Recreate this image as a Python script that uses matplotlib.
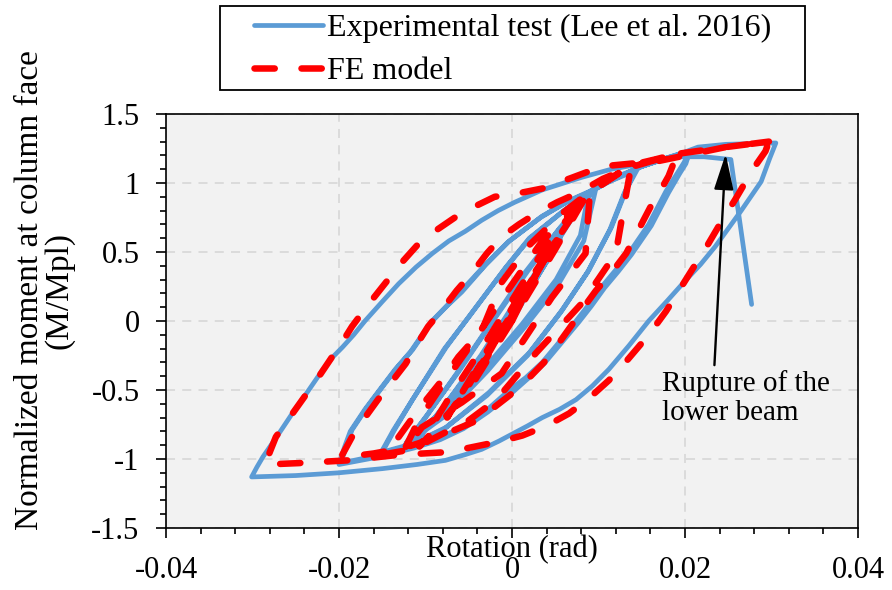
import matplotlib
matplotlib.use("Agg")
import matplotlib.pyplot as plt
from matplotlib.lines import Line2D
from matplotlib.patches import Rectangle
from matplotlib.ticker import MultipleLocator

# Experimental moment-rotation history (rotation in rad, moment normalised by Mpl)
exp_rot = [
    # small elastic cycles
    0.0, 0.002, 0.004, 0.0015, -0.001, -0.0035, -0.0055, -0.003, 0.0, 0.003,
    0.0056, 0.003, 0.0, -0.004, -0.0078, -0.0047, -0.001, 0.003, 0.0068, 0.0042,
    0.0, -0.004, -0.008, -0.0108, -0.0072, -0.0036, 0.0005, 0.004, 0.0066, 0.0088,
    # 0.01 rad
    0.0079, 0.0051, 0.0012, -0.003, -0.0084, -0.0122,
    -0.0098, -0.0062, -0.0022, 0.0018, 0.0055, 0.0097,
    0.0083, 0.0053, 0.0014, -0.0028, -0.008, -0.0124,
    -0.01, -0.0064, -0.0024, 0.0016, 0.0056, 0.0097, 0.0125, 0.0145,
    # 0.015 rad
    0.0132, 0.0115, 0.0089, 0.0058, 0.002, -0.0027, -0.0076, -0.0115, -0.015,
    -0.0135, -0.0115, -0.0076, -0.005, -0.0007, 0.002, 0.0058, 0.0097, 0.0143,
    0.013, 0.0113, 0.0087, 0.0056, 0.0018, -0.0029, -0.0078, -0.0117, -0.0152,
    -0.0137, -0.0116, -0.0078, -0.0051, -0.0008, 0.0021, 0.006, 0.01, 0.015, 0.0178, 0.0205,
    # 0.02 rad
    0.0199, 0.0192, 0.0178, 0.0168, 0.0158, 0.0135, 0.012, 0.0104, 0.0089, 0.0074,
    0.0055, 0.0035, 0.0016, -0.0003, -0.003, -0.0058, -0.0085, -0.0115, -0.016, -0.0198,
    -0.0192, -0.0185, -0.0168, -0.015, -0.0133, -0.0115, -0.0092, -0.0075, -0.0058, -0.003,
    -0.0003, 0.0035, 0.0065, 0.0097, 0.0125, 0.015, 0.018, 0.0205,
    0.0201, 0.0194, 0.0181, 0.0171, 0.0161, 0.0138, 0.0123, 0.0107, 0.0092, 0.0077,
    0.0057, 0.0037, 0.0018, 0.0, -0.0028, -0.0056, -0.0083, -0.0113, -0.0158, -0.02,
    -0.0194, -0.0187, -0.017, -0.0152, -0.0135, -0.0117, -0.0094, -0.0077, -0.006, -0.0032,
    -0.0005, 0.0033, 0.0063, 0.0095, 0.0123, 0.015, 0.0178, 0.0198, 0.0215, 0.0247, 0.0305,
    # 0.03 rad
    0.0298, 0.0288, 0.0277, 0.0265, 0.025, 0.0235, 0.0218, 0.02, 0.018, 0.0158,
    0.0135, 0.0112, 0.0093, 0.0074, 0.0055, 0.0035, 0.0018, 0.0003, -0.0015, -0.0035,
    -0.0055, -0.0077, -0.011, -0.015, -0.02, -0.025, -0.0301,
    -0.0295, -0.0288, -0.0271, -0.0254, -0.0236, -0.0219, -0.0207, -0.0196, -0.0183, -0.017,
    -0.015, -0.0131, -0.0111, -0.0092, -0.0073, -0.0054, -0.0035, -0.0016, 0.0003, 0.0035,
    0.008, 0.0115, 0.015, 0.0175, 0.0195, 0.0222, 0.0253,
    # rupture of the lower beam
    0.0277,
]
exp_mom = [
    0.0, 0.22, 0.43, 0.17, -0.06, -0.29, -0.46, -0.24, 0.05, 0.34,
    0.59, 0.33, 0.05, -0.36, -0.66, -0.39, -0.02, 0.38, 0.74, 0.47,
    0.08, -0.3, -0.63, -0.85, -0.56, -0.25, 0.15, 0.45, 0.71, 0.91,
    0.62, 0.3, -0.02, -0.33, -0.67, -0.88,
    -0.68, -0.37, 0.0, 0.36, 0.67, 0.96,
    0.58, 0.26, -0.05, -0.36, -0.7, -0.9,
    -0.7, -0.38, -0.01, 0.36, 0.68, 0.97, 1.05, 1.1,
    0.95, 0.68, 0.37, 0.08, -0.23, -0.52, -0.77, -0.89, -0.95,
    -0.78, -0.57, -0.19, 0.03, 0.39, 0.6, 0.79, 0.97, 1.09,
    0.93, 0.66, 0.35, 0.06, -0.25, -0.54, -0.78, -0.9, -0.96,
    -0.79, -0.58, -0.2, 0.02, 0.38, 0.6, 0.8, 0.98, 1.12, 1.18, 1.23,
    1.15, 1.08, 0.94, 0.82, 0.7, 0.49, 0.37, 0.25, 0.12, 0.0,
    -0.15, -0.3, -0.41, -0.5, -0.65, -0.77, -0.85, -0.91, -0.98, -1.03,
    -0.92, -0.79, -0.63, -0.48, -0.34, -0.21, 0.0, 0.11, 0.21, 0.41,
    0.58, 0.76, 0.87, 0.96, 1.05, 1.12, 1.18, 1.22,
    1.14, 1.07, 0.93, 0.81, 0.69, 0.48, 0.36, 0.24, 0.11, -0.01,
    -0.16, -0.31, -0.42, -0.52, -0.66, -0.78, -0.86, -0.92, -0.99, -1.04,
    -0.92, -0.8, -0.64, -0.49, -0.35, -0.22, -0.01, 0.1, 0.21, 0.4,
    0.57, 0.75, 0.86, 0.95, 1.05, 1.12, 1.18, 1.22, 1.26, 1.28, 1.29,
    1.18, 1.01, 0.91, 0.8, 0.67, 0.54, 0.41, 0.29, 0.15, 0.0,
    -0.18, -0.35, -0.47, -0.57, -0.64, -0.7, -0.76, -0.81, -0.87, -0.93,
    -0.97, -1.01, -1.04, -1.07, -1.1, -1.12, -1.13,
    -1.06, -0.985, -0.83, -0.67, -0.51, -0.355, -0.26, -0.19, -0.1, 0.0,
    0.14, 0.27, 0.39, 0.49, 0.58, 0.65, 0.73, 0.8, 0.86, 0.95,
    1.04, 1.1, 1.14, 1.17, 1.19, 1.19, 1.17,
    0.12,
]

# Finite element prediction
fe_rot = [
    0.0, 0.002, 0.004, 0.0015, -0.0015, -0.004, -0.0015, 0.0015, 0.0055,
    0.0025, -0.0015, -0.0055, -0.002, 0.002, 0.007, 0.0035, -0.001, -0.0075,
    -0.0035, 0.001, 0.0085, 0.005, 0.0, -0.005, -0.0107,
    -0.0075, -0.0035, 0.001, 0.0045, 0.009,
    0.0085, 0.0046, -0.0012, -0.0058, -0.0104, -0.0125,
    -0.0108, -0.008, -0.0045, -0.0005, 0.0035, 0.0095, 0.0138,
    0.013, 0.012, 0.0081, 0.0028, -0.0018, -0.005, -0.0115, -0.0152,
    -0.0131, -0.0108, -0.0081, -0.0062, -0.0035, -0.0012, 0.002, 0.0058, 0.0095, 0.0138, 0.0165, 0.019,
    0.0186, 0.0181, 0.0172, 0.0162, 0.0147, 0.0132, 0.0115, 0.0097, 0.0083, 0.0069,
    0.0053, 0.0037, 0.0017, -0.0003, -0.004, -0.0085, -0.0125, -0.016, -0.0198,
    -0.0192, -0.0185, -0.017, -0.0155, -0.0139, -0.0123, -0.011, -0.0097, -0.0081, -0.0064,
    -0.0046, -0.0029, -0.0012, 0.0008, 0.0028, 0.0052, 0.0077, 0.0105, 0.0135, 0.0162, 0.019,
    0.0247, 0.0297,
    0.0293, 0.0283, 0.0273, 0.0258, 0.0242, 0.0227, 0.0212, 0.0195, 0.0178, 0.0164,
    0.015, 0.0131, 0.0112, 0.0089, 0.0066, 0.004, 0.0012, -0.0012, -0.0035, -0.0074,
    -0.0131, -0.019, -0.0247, -0.0285,
    -0.028, -0.0273, -0.0256, -0.0239, -0.0223, -0.0208, -0.0196, -0.0185, -0.0166, -0.0147,
    -0.0128, -0.0108, -0.0087, -0.0066, -0.0043, -0.002, 0.0003, 0.0035, 0.007, 0.0104,
    0.017, 0.0247, 0.0297,
]
fe_mom = [
    0.0, 0.25, 0.47, 0.2, -0.12, -0.38, -0.1, 0.22, 0.62,
    0.32, -0.1, -0.52, -0.14, 0.3, 0.78, 0.42, -0.05, -0.7,
    -0.28, 0.2, 0.9, 0.52, 0.0, -0.5, -0.91,
    -0.58, -0.2, 0.25, 0.6, 0.93,
    0.49, 0.17, -0.38, -0.59, -0.77, -0.94,
    -0.72, -0.46, -0.15, 0.22, 0.58, 0.95, 1.13,
    0.85, 0.49, 0.13, -0.23, -0.57, -0.72, -0.93, -0.97,
    -0.84, -0.64, -0.43, -0.26, -0.07, 0.28, 0.55, 0.78, 0.96, 1.13, 1.17, 1.21,
    1.13, 1.05, 0.95, 0.85, 0.67, 0.49, 0.35, 0.22, 0.1, -0.03,
    -0.17, -0.3, -0.43, -0.54, -0.72, -0.84, -0.92, -0.96, -0.99,
    -0.92, -0.84, -0.7, -0.57, -0.44, -0.31, -0.17, -0.04, 0.08, 0.22,
    0.35, 0.49, 0.61, 0.7, 0.78, 0.86, 0.93, 1.03, 1.11, 1.16, 1.21,
    1.26, 1.3,
    1.23, 1.14, 1.04, 0.88, 0.72, 0.56, 0.41, 0.24, 0.07, -0.05,
    -0.16, -0.3, -0.43, -0.56, -0.67, -0.76, -0.83, -0.87, -0.9, -0.95,
    -0.97, -1.01, -1.03, -1.04,
    -0.95, -0.84, -0.69, -0.54, -0.4, -0.26, -0.15, -0.04, 0.12, 0.27,
    0.42, 0.56, 0.66, 0.75, 0.83, 0.9, 0.92, 0.96, 1.04, 1.12,
    1.16, 1.26, 1.3,
]

x_ticks = [-0.04, -0.02, 0.0, 0.02, 0.04]
x_tick_labels = ["-0.04", "-0.02", "0", "0.02", "0.04"]
y_ticks = [-1.5, -1.0, -0.5, 0.0, 0.5, 1.0, 1.5]
y_tick_labels = ["-1.5", "-1", "-0.5", "0", "0.5", "1", "1.5"]

rupture_tip = (0.0247, 1.21)
rupture_tail = (0.0234, -0.32)

BLUE = "#5B9BD5"
RED = "#FF0000"
EXP_LW = 3.4
FE_LW = 4.7
FE_DASH = (0, (3.1, 4.1))

plt.rcParams["font.family"] = ["Liberation Serif", "DejaVu Serif"]
plt.rcParams["axes.unicode_minus"] = False

fig = plt.figure(figsize=(8.92, 5.90), dpi=100)
ax = fig.add_axes([0.1861, 0.1051, 0.7758, 0.7017])
ax.set_facecolor("#F2F2F2")

ax.plot(exp_rot, exp_mom, color=BLUE, lw=EXP_LW, solid_joinstyle="round",
        solid_capstyle="round", zorder=3)
ax.plot(fe_rot, fe_mom, color=RED, lw=FE_LW, linestyle=FE_DASH,
        dash_capstyle="round", dash_joinstyle="round", zorder=4)

ax.set_xlim(-0.04, 0.04)
ax.set_ylim(-1.5, 1.5)
ax.set_xticks(x_ticks, x_tick_labels)
ax.set_yticks(y_ticks, y_tick_labels)
ax.xaxis.set_minor_locator(MultipleLocator(0.004))
ax.yaxis.set_minor_locator(MultipleLocator(0.1))
ax.tick_params(axis="both", which="major", length=7, width=1.2, labelsize=22, direction="out")
ax.tick_params(axis="both", which="minor", length=4.5, width=1.2, direction="out")
ax.tick_params(axis="x", which="major", pad=13)
ax.tick_params(axis="y", which="major", pad=12)
for s in ax.spines.values():
    s.set_linewidth(1.2)
    s.set_color("black")

ax.grid(True, which="major", color="#D9D9D9", lw=1.3, linestyle=(0, (5, 4)))
ax.set_axisbelow(True)

ax.set_xlabel("Rotation (rad)", fontsize=22)
ax.xaxis.set_label_coords(0.5, -0.053)
ax.xaxis.label.set_verticalalignment("center")

fig.text(0.050, 0.508, "Normalized moment at column face\n(M/Mpl)", rotation=90,
         ha="center", va="center", multialignment="center", fontsize=24, linespacing=0.95)

# rupture annotation
ax.annotate("", xy=rupture_tip, xytext=rupture_tail,
            arrowprops=dict(arrowstyle="-|>,head_length=1.1,head_width=0.3",
                            color="black", lw=1.7, mutation_scale=20,
                            shrinkA=0, shrinkB=0), zorder=6)
ax.text(0.0173, -0.355, "Rupture of the\nlower beam", fontsize=21, ha="left", va="top",
        linespacing=1.15, zorder=6)

# legend above the axes, framed by a plain rectangle
fig.add_artist(Rectangle((220 / 892, 1 - 90 / 590), 585 / 892, 84 / 590,
                         transform=fig.transFigure, facecolor="white",
                         edgecolor="black", lw=1.3))
handles = [Line2D([], [], color=BLUE, lw=EXP_LW, solid_capstyle="round"),
           Line2D([], [], color=RED, lw=FE_LW, linestyle=FE_DASH, dash_capstyle="round")]
fig.legend(handles, ["Experimental test (Lee et al. 2016)", "FE model"],
           loc="upper left", bbox_to_anchor=(232 / 892, 1 + 9 / 590), frameon=False,
           fontsize=23, handlelength=2.15, handletextpad=0.12, labelspacing=0.45,
           borderpad=0.2)

fig.savefig("out.png", dpi=100)
